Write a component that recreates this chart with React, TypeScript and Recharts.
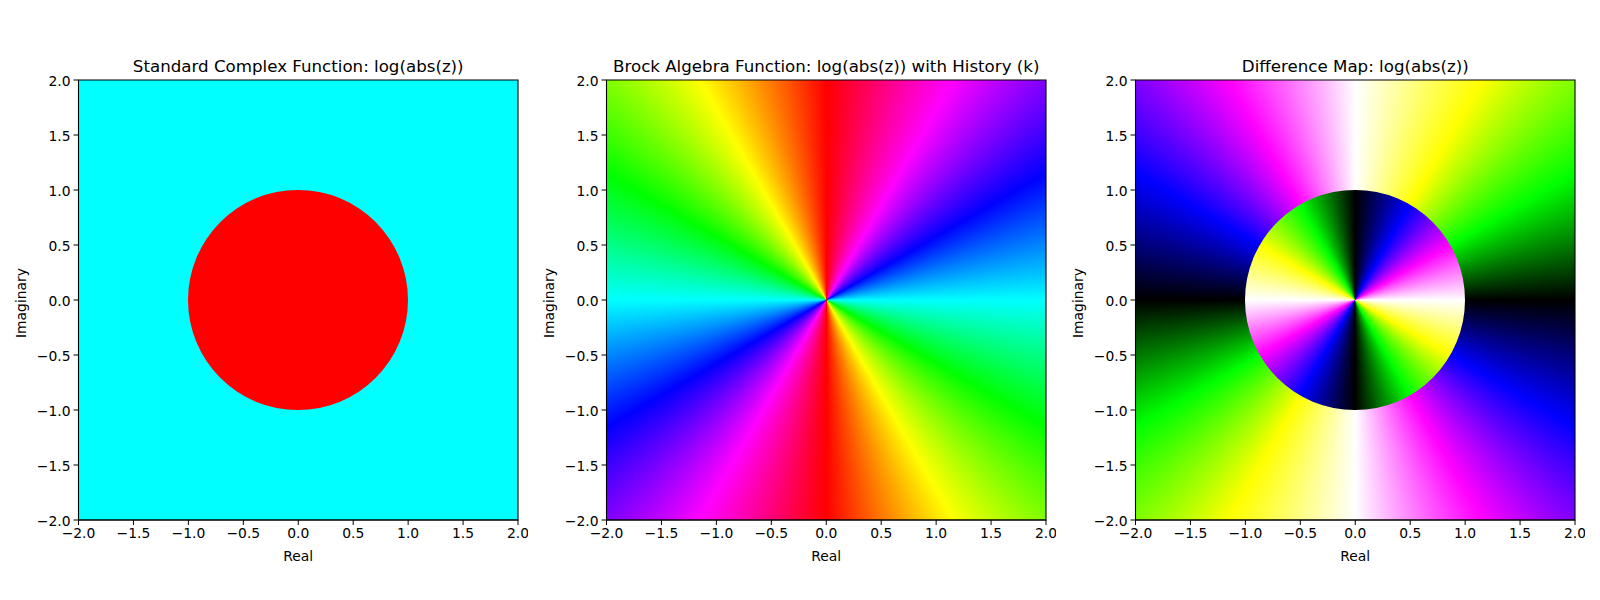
import { ComposedChart, ReferenceArea, Scatter, XAxis, YAxis } from "recharts"

const axisTicks = [-2, -1.5, -1, -0.5, 0, 0.5, 1, 1.5, 2]
const axisDomain = [-2, 2]
const diskDomain = [-1, 1]
const extentX = [-2, 2]
const extentY = [-2, 2]

const titles = [
  "Standard Complex Function: log(abs(z))",
  "Brock Algebra Function: log(abs(z)) with History (k)",
  "Difference Map: log(abs(z))",
]

// hue bearings, clockwise from the top of each plot
const bearings = [0, 30, 60, 90, 120, 150, 180, 210, 240, 270, 300, 330, 360]
const cyanStops = ["#00ffff", "#00ffff"]
const redStops = ["#ff0000", "#ff0000"]
const brockStops = ["#ff0000", "#ff00ff", "#0000ff", "#00ffff", "#00ff00", "#ffff00", "#ff0000", "#ff00ff", "#0000ff", "#00ffff", "#00ff00", "#ffff00", "#ff0000"]
const diffOuterStops = ["#ffffff", "#ffff00", "#00ff00", "#000000", "#0000ff", "#ff00ff", "#ffffff", "#ffff00", "#00ff00", "#000000", "#0000ff", "#ff00ff", "#ffffff"]
const diffInnerStops = ["#000000", "#0000ff", "#ff00ff", "#ffffff", "#ffff00", "#00ff00", "#000000", "#0000ff", "#ff00ff", "#ffffff", "#ffff00", "#00ff00", "#000000"]

const backgrounds = [cyanStops, brockStops, diffOuterStops]
const disks = [redStops, null, diffInnerStops]
const panelLefts = [0, 528, 1057]

const FONT = "'DejaVu Sans', sans-serif"

const extentData = extentX.map((x, i) => ({ x, y: extentY[i] }))

function gradient(stops: string[]) {
  if (stops.length === 2) return stops[0]
  return `conic-gradient(${stops.map((c, i) => `${c} ${bearings[i]}deg`).join(", ")})`
}

function ColorField({ x, y, width, height, stops, round }: any) {
  return (
    <foreignObject x={x} y={y} width={width} height={height}>
      <div
        style={{
          width: "100%",
          height: "100%",
          background: gradient(stops),
          borderRadius: round ? "50%" : 0,
        }}
      />
    </foreignObject>
  )
}

function formatTick(value: number) {
  return value.toFixed(1).replace("-", "\u2212")
}

function Panel({ index }: { index: number }) {
  const disk = disks[index]
  const tick = { fill: "#000", fontSize: 13.89, fontFamily: FONT }
  return (
    <div style={{ position: "absolute", left: panelLefts[index], top: 0 }}>
      <ComposedChart width={528} height={600} margin={{ top: 80, right: 10, bottom: 0, left: 0 }}>
        <XAxis
          type="number"
          dataKey="x"
          domain={axisDomain}
          ticks={axisTicks}
          interval={0}
          tickFormatter={formatTick}
          tick={tick}
          tickSize={5}
          tickMargin={3}
          stroke="#000"
          height={80}
          label={{ value: "Real", position: "insideBottom", offset: 39, fill: "#000", fontSize: 13.89, fontFamily: FONT }}
        />
        <YAxis
          type="number"
          dataKey="y"
          domain={axisDomain}
          ticks={axisTicks}
          interval={0}
          tickFormatter={formatTick}
          tick={{ ...tick, dy: 1 }}
          tickSize={5}
          tickMargin={3}
          stroke="#000"
          width={78.5}
          label={{ value: "Imaginary", angle: -90, position: "insideLeft", offset: 21, dy: 3, style: { textAnchor: "middle" }, fill: "#000", fontSize: 13.89, fontFamily: FONT }}
        />
        <Scatter data={extentData} isAnimationActive={false} shape={() => <g />} />
        <ReferenceArea
          x1={axisDomain[0]}
          x2={axisDomain[1]}
          y1={axisDomain[0]}
          y2={axisDomain[1]}
          shape={(props: any) => <ColorField {...props} stops={backgrounds[index]} />}
        />
        {disk && (
          <ReferenceArea
            x1={diskDomain[0]}
            x2={diskDomain[1]}
            y1={diskDomain[0]}
            y2={diskDomain[1]}
            shape={(props: any) => <ColorField {...props} stops={disk} round />}
          />
        )}
        <ReferenceArea
          x1={axisDomain[0]}
          x2={axisDomain[1]}
          y1={axisDomain[0]}
          y2={axisDomain[1]}
          fill="none"
          fillOpacity={0}
          stroke="#000"
          strokeWidth={1.1}
          strokeOpacity={1}
          label={{ value: titles[index], position: "top", offset: 8, fill: "#000", fontSize: 16.67, fontFamily: FONT }}
        />
      </ComposedChart>
    </div>
  )
}

export default function App() {
  return (
    <div style={{ position: "absolute", left: 0, top: 0, width: 1600, height: 600, background: "#fff", overflow: "hidden" }}>
      <Panel index={0} />
      <Panel index={1} />
      <Panel index={2} />
    </div>
  )
}
